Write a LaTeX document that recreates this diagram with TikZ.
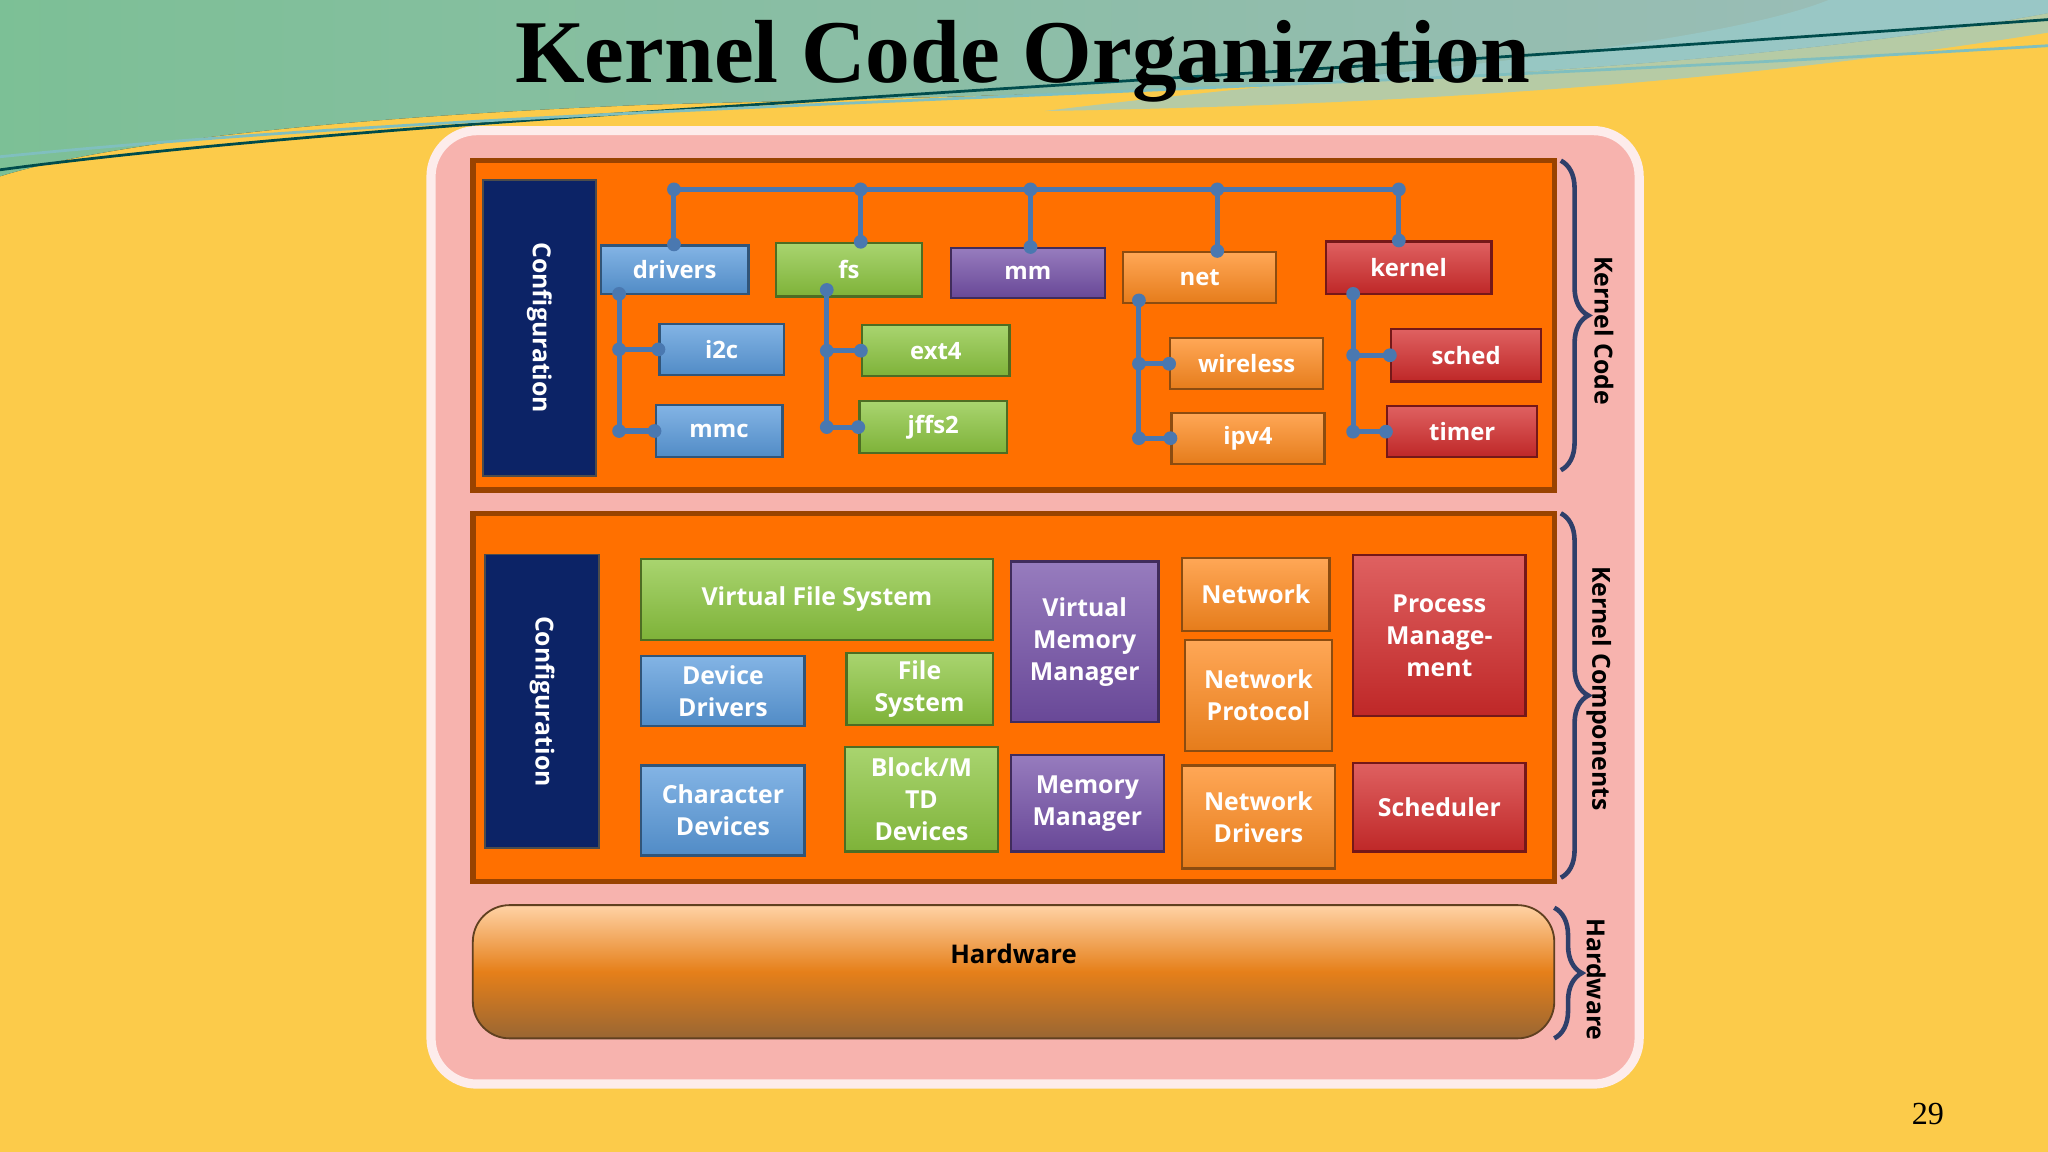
\documentclass[tikz,border=0pt]{standalone}
\usepackage{fontspec}
\setmainfont{Open Sans}
\newfontfamily\titlefont{Liberation Serif}
\usetikzlibrary{decorations.pathreplacing}
\definecolor{bgy}{HTML}{FCCB4A}
\definecolor{pinkb}{HTML}{F7B3AE}
\definecolor{orng}{HTML}{FF7000}
\definecolor{cblue}{HTML}{5A9BDC}
\definecolor{cgreen}{HTML}{8CC63F}
\definecolor{cpurp}{HTML}{7450A8}
\definecolor{corng}{HTML}{FF8A1E}
\definecolor{cred}{HTML}{D42C2C}
\definecolor{navy}{HTML}{0C2366}
\definecolor{wire}{HTML}{4A78B0}
\definecolor{brc}{HTML}{2F3F6A}
\tikzset{
 box/.style={draw=#1!55!black, line width=0.5pt, top color=#1!75!white, bottom color=#1!90!black, text=white, font=\bfseries\fontsize{5.2}{6.2}\selectfont, align=center, inner sep=0pt},
 mbox/.style={box=#1, font=\bfseries\fontsize{5.4}{7}\selectfont},
 wr/.style={draw=wire, line width=1.1pt},
 dot/.style={circle, fill=wire, inner sep=0pt, minimum size=3pt},
 brace/.style={draw=brc, line width=1pt, decorate, decoration={brace, amplitude=6pt}},
 blab/.style={rotate=-90, font=\bfseries\fontsize{5.4}{6}\selectfont, text=black}
}
\newcommand\bx[8]{\node[#1=#7, minimum width={(#5-#3)*0.01cm}, minimum height={(#6-#4)*0.01cm}] (#2) at ({(#3+#5)/2},{(#4+#6)/2}) {#8};}
\begin{document}
\begin{tikzpicture}[x=0.01cm,y=-0.01cm]
\useasboundingbox (0,0) rectangle (1568,882);
\fill[bgy] (0,0) rectangle (1568,882);
% waves
\fill[left color=green!40!teal!45!white, right color=teal!30!white, opacity=0.85] (0,0) -- (1568,0) -- (1568,10) .. controls (1300,60) and (900,70) .. (500,80) .. controls (250,90) and (80,110) .. (0,135) -- cycle;
\fill[teal!40!white, opacity=0.7] (700,0) -- (1568,0) -- (1568,25) .. controls (1350,60) and (1100,80) .. (800,85) .. controls (1000,60) and (1300,40) .. (1400,0) -- cycle;
\draw[teal!60!black, line width=0.6pt] (0,130) .. controls (300,90) and (800,70) .. (1568,15);
\draw[teal!50, line width=0.6pt] (0,120) .. controls (400,80) and (900,75) .. (1568,35);
\node[font=\titlefont\bfseries\fontsize{19.5}{22}\selectfont] (title) at (783,47) {Kernel Code Organization};
\node[font=\titlefont\fontsize{7}{8}\selectfont] (pg) at (1476,853) {29};
% panels
\draw[white!75!pinkb, line width=2pt, fill=pinkb, rounded corners=10pt] (330,100) rectangle (1255,830);
\draw[orng!60!black, line width=1.2pt, fill=orng] (362,123) rectangle (1190,375);
\draw[orng!60!black, line width=1.2pt, fill=orng] (362,393) rectangle (1190,675);
\node[draw=brown!50!black, rounded corners=8pt, top color=orange!35!white, bottom color=brown!80!black, middle color=orange!60!brown, minimum width=828*0.01cm, minimum height=102*0.01cm] (hw) at (776,744) {};
\node[font=\bfseries\fontsize{5.6}{7}\selectfont] (hwt) at (776,730) {Hardware};
\node[draw=black!70, fill=navy, minimum width=87*0.01cm, minimum height=227*0.01cm] (conf1) at (413,251) {};
\node[rotate=-90, text=white, font=\bfseries\fontsize{5.4}{6}\selectfont] at (conf1) {Configuration};
\node[draw=black!70, fill=navy, minimum width=87*0.01cm, minimum height=225*0.01cm] (conf2) at (415,537) {};
\node[rotate=-90, text=white, font=\bfseries\fontsize{5.4}{6}\selectfont] at (conf2) {Configuration};
% top boxes
\bx{box}{drivers}{460}{188}{573}{225}{cblue}{drivers}
\bx{box}{fs}{594}{186}{706}{227}{cgreen}{fs}
\bx{box}{mm}{728}{190}{846}{228}{cpurp}{mm}
\bx{box}{net}{860}{193}{977}{232}{corng}{net}
\bx{box}{kernel}{1015}{185}{1142}{225}{cred}{kernel}
\bx{box}{i2c}{505}{248}{600}{287}{cblue}{i2c}
\bx{box}{mmc}{502}{310}{599}{350}{cblue}{mmc}
\bx{box}{ext4}{660}{249}{773}{288}{cgreen}{ext4}
\bx{box}{jffs2}{658}{307}{771}{347}{cgreen}{jffs2}
\bx{box}{wireless}{896}{259}{1013}{298}{corng}{wireless}
\bx{box}{ipv4}{897}{316}{1014}{355}{corng}{ipv4}
\bx{box}{sched}{1065}{252}{1180}{292}{cred}{sched}
\bx{box}{timer}{1062}{311}{1177}{350}{cred}{timer}
% bus
\coordinate (b1) at (516,145); \coordinate (b2) at (659,145); \coordinate (b3) at (789,145);
\coordinate (b4) at (932,145); \coordinate (b5) at (1071,145);
\draw[wr] (b1) -- (b5);
\foreach \b/\n in {b1/drivers,b2/fs,b3/mm,b4/net,b5/kernel}{
  \draw[wr] (\b) -- (\b|-\n.north);
  \node[dot] at (\b) {}; \node[dot] at (\b|-\n.north) {};}
\coordinate (t1) at (474,225); \coordinate (t2) at (633,222); \coordinate (t3) at (872,230); \coordinate (t4) at (1036,225);
\foreach \t/\a/\b in {t1/i2c/mmc,t2/ext4/jffs2,t3/wireless/ipv4,t4/sched/timer}{
  \draw[wr] (\t) |- (\b.west); \draw[wr] (\t|-\a.west) -- (\a.west);
  \node[dot] at (\t) {}; \node[dot] at (\t|-\a.west) {}; \node[dot] at (\t|-\b.west) {};
  \node[dot] at (\a.west) {}; \node[dot] at (\b.west) {};}
% middle boxes
\bx{mbox}{vfs}{491}{428}{760}{490}{cgreen}{Virtual File System}
\bx{mbox}{dd}{491}{502}{616}{556}{cblue}{Device\\Drivers}
\bx{mbox}{fsys}{648}{500}{760}{555}{cgreen}{File\\System}
\bx{mbox}{cd}{491}{586}{616}{655}{cblue}{Character\\Devices}
\bx{mbox}{bm}{647}{572}{764}{652}{cgreen}{Block/M\\TD\\Devices}
\bx{mbox}{vmm}{774}{430}{887}{553}{cpurp}{Virtual\\Memory\\Manager}
\bx{mbox}{memm}{774}{578}{891}{652}{cpurp}{Memory\\Manager}
\bx{mbox}{nw}{905}{427}{1018}{483}{corng}{Network}
\bx{mbox}{np}{907}{490}{1020}{575}{corng}{Network\\Protocol}
\bx{mbox}{nd}{905}{586}{1022}{665}{corng}{Network\\Drivers}
\bx{mbox}{pm}{1036}{425}{1168}{548}{cred}{Process\\Manage-\\ment}
\bx{mbox}{sch}{1036}{584}{1168}{652}{cred}{Scheduler}
% braces
\draw[brace] (1195,123) -- (1195,360);
\node[blab] at (1228,253) {Kernel Code};
\draw[brace] (1195,393) -- (1195,672);
\node[blab] at (1224,527) {Kernel Components};
\draw[brace] (1190,695) -- (1190,795);
\node[blab] at (1222,750) {Hardware};
\end{tikzpicture}
\end{document}
